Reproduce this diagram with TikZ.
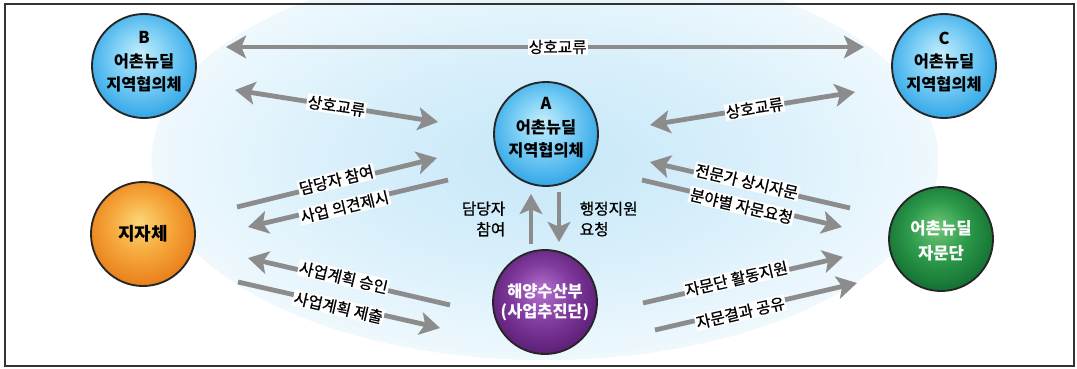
\documentclass[tikz,border=0pt]{standalone}
\usepackage{fontspec}
\setmainfont{Noto Sans CJK KR}
\newfontfamily\labfont{Noto Sans CJK KR}[FakeBold=0.8]
\usetikzlibrary{arrows.meta,calc}
\definecolor{arrowgray}{RGB}{140,140,140}
\definecolor{glowc}{RGB}{198,231,248}
\definecolor{glowd}{RGB}{218,240,251}
\definecolor{bl1}{RGB}{200,238,252}
\definecolor{bl2}{RGB}{120,205,245}
\definecolor{bl3}{RGB}{40,160,228}
\definecolor{bl4}{RGB}{20,105,185}
\definecolor{or1}{RGB}{252,214,120}
\definecolor{or2}{RGB}{246,168,60}
\definecolor{or3}{RGB}{230,120,20}
\definecolor{or4}{RGB}{195,85,10}
\definecolor{pu1}{RGB}{180,115,205}
\definecolor{pu2}{RGB}{130,60,160}
\definecolor{pu3}{RGB}{85,25,110}
\definecolor{pu4}{RGB}{55,12,75}
\definecolor{gr1}{RGB}{115,198,122}
\definecolor{gr2}{RGB}{45,155,75}
\definecolor{gr3}{RGB}{15,105,45}
\definecolor{gr4}{RGB}{8,70,28}
\pgfdeclareradialshading{glowsh}{\pgfpoint{0bp}{0bp}}{color(0bp)=(glowc); color(14bp)=(glowd); color(34bp)=(white); color(50bp)=(white)}
\pgfdeclareradialshading{bluesph}{\pgfpoint{-2bp}{6bp}}{color(0bp)=(bl1); color(14bp)=(bl2); color(30bp)=(bl3); color(42bp)=(bl4); color(50bp)=(bl4)}
\pgfdeclareradialshading{orangesph}{\pgfpoint{-2bp}{6bp}}{color(0bp)=(or1); color(14bp)=(or2); color(30bp)=(or3); color(42bp)=(or4); color(50bp)=(or4)}
\pgfdeclareradialshading{purplesph}{\pgfpoint{-2bp}{6bp}}{color(0bp)=(pu1); color(14bp)=(pu2); color(30bp)=(pu3); color(42bp)=(pu4); color(50bp)=(pu4)}
\pgfdeclareradialshading{greensph}{\pgfpoint{-2bp}{6bp}}{color(0bp)=(gr1); color(14bp)=(gr2); color(30bp)=(gr3); color(42bp)=(gr4); color(50bp)=(gr4)}
\begin{document}
\begin{tikzpicture}[x=0.75pt,y=-0.75pt,
  >={Stealth[length=15pt,width=17pt,inset=3.5pt]},
  conn/.style={draw=arrowgray, line width=3.6pt},
  lab/.style={fill=white, inner sep=0.8pt, sloped, font=\labfont\fontsize{11.8}{13}\selectfont},
  labup/.style={lab, above=-6pt},
  labdn/.style={lab, below=-6pt},
  sphere/.style={circle, minimum size=78pt, inner sep=0pt, draw=black!85, line width=1.4pt, shade},
  ctext/.style={align=center, font=\bfseries\fontsize{12.3}{17.5}\selectfont},
  vtext/.style={font=\labfont\fontsize{11.8}{15.5}\selectfont}
]
\useasboundingbox (0,0) rectangle (1077,368);
\fill[white] (0,0) rectangle (1077,368);
\shade[shading=glowsh] (545,160) ellipse [x radius=295pt, y radius=150pt];
\draw[black!80, line width=1.4pt] (5,4) rectangle (1074,366);

% circles
\node[sphere, shading=bluesph] (B) at (144,66) {};
\node[sphere, shading=bluesph] (A) at (546,134) {};
\node[sphere, shading=bluesph] (C) at (944,66) {};
\node[sphere, shading=orangesph] (J) at (143,234) {};
\node[sphere, shading=purplesph] (H) at (545,302) {};
\node[sphere, shading=greensph] (Z) at (941,239) {};

\node[ctext] (Bt) at (144,62) {B\\어촌뉴딜\\지역협의체};
\node[ctext] (At) at (546,128) {A\\어촌뉴딜\\지역협의체};
\node[ctext] (Ct) at (944,62) {C\\어촌뉴딜\\지역협의체};
\node[ctext, font=\bfseries\fontsize{13.5}{16}\selectfont] (Jt) at (143,234) {지자체};
\node[ctext, font=\bfseries\fontsize{12.3}{15}\selectfont, text=white] (Ht) at (545,302) {해양수산부\\(사업추진단)};
\node[ctext, font=\bfseries\fontsize{12.5}{19}\selectfont, text=white] (Zt) at (941,241) {어촌뉴딜\\자문단};

% arrow end points
\coordinate (t1) at (226,47);  \coordinate (t2) at (864,47);
\coordinate (l1a) at (235,90); \coordinate (l1b) at (438,122);
\coordinate (r1a) at (650,125); \coordinate (r1b) at (855,92);
\coordinate (l2s) at (237,207); \coordinate (l2e) at (437,158);
\coordinate (l3s) at (448,180); \coordinate (l3e) at (248,227);
\coordinate (r2s) at (850,208); \coordinate (r2e) at (650,162);
\coordinate (r3s) at (642,180); \coordinate (r3e) at (842,227);
\coordinate (l4s) at (450,305); \coordinate (l4e) at (248,258);
\coordinate (l5s) at (238,282); \coordinate (l5e) at (440,328);
\coordinate (r4s) at (643,303); \coordinate (r4e) at (843,257);
\coordinate (r5s) at (655,330); \coordinate (r5e) at (857,283);
\coordinate (vus) at (531,244); \coordinate (vue) at (531,194);
\coordinate (vds) at (559,192); \coordinate (vde) at (559,242);

\draw[conn, <->] (t1) -- node[lab, pos=0.52] (lt) {상호교류} (t2);
\draw[conn, <->] (l1a) -- node[lab, pos=0.5] (ll1) {상호교류} (l1b);
\draw[conn, <->] (r1a) -- node[lab, pos=0.51] (lr1) {상호교류} (r1b);
\draw[conn, ->] (l2s) -- node[labup, pos=0.5] (ll2) {담당자 참여} (l2e);
\draw[conn, ->] (l3s) -- node[labdn, pos=0.52] (ll3) {사업 의견제시} (l3e);
\draw[conn, ->] (r2s) -- node[labup, pos=0.52] (lr2) {전문가 상시자문} (r2e);
\draw[conn, ->] (r3s) -- node[labdn, pos=0.5] (lr3) {분야별 자문요청} (r3e);
\draw[conn, ->] (l4s) -- node[labup, pos=0.53] (ll4) {사업계획 승인} (l4e);
\draw[conn, ->] (l5s) -- node[labdn, pos=0.5] (ll5) {사업계획 제출} (l5e);
\draw[conn, ->] (r4s) -- node[labup, pos=0.47] (lr4) {자문단 활동지원} (r4e);
\draw[conn, ->] (r5s) -- node[labdn, pos=0.42] (lr5) {자문결과 공유} (r5e);
\draw[conn, ->] (vus) -- (vue);
\draw[conn, ->] (vds) -- (vde);

\node[vtext, align=right, anchor=east] (vl) at (510,219) {담당자\\참여};
\node[vtext, align=left, anchor=west] (vr) at (575,219) {행정지원\\요청};
\end{tikzpicture}
\end{document}
